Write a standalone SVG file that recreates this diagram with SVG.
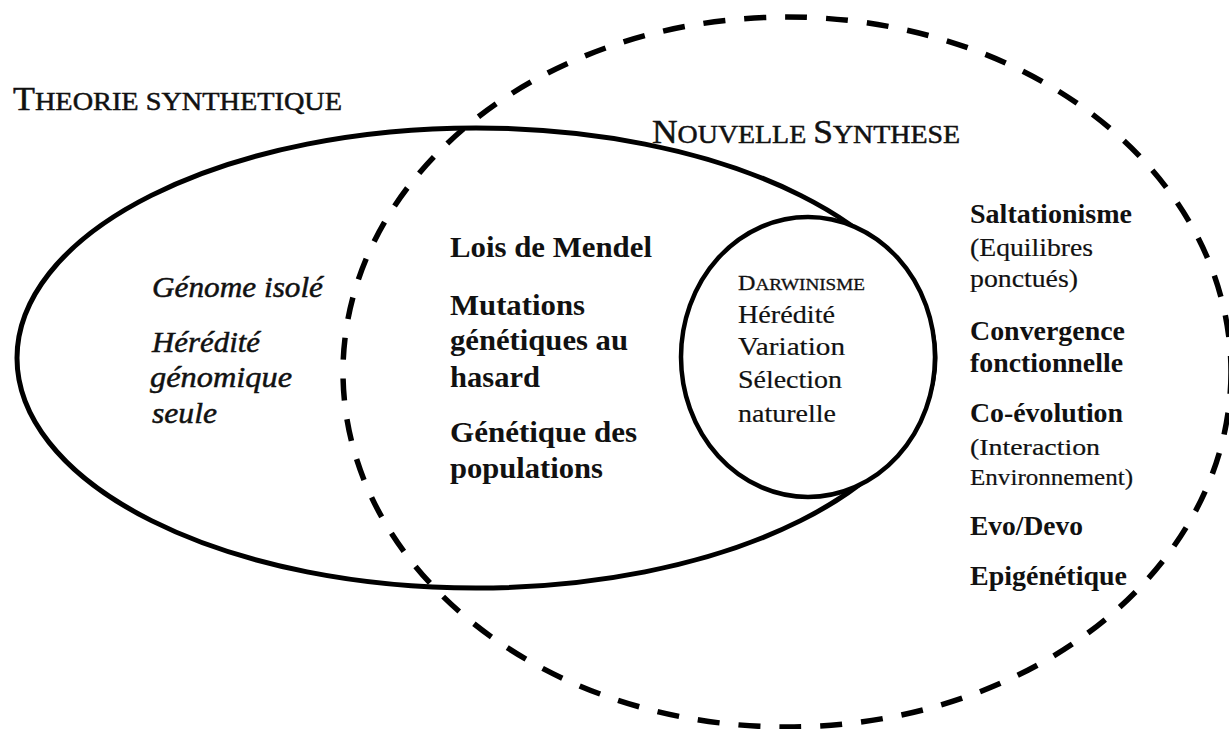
<svg xmlns="http://www.w3.org/2000/svg" width="1229" height="729" viewBox="0 0 1229 729">
<defs>
<style>
text{font-family:"Liberation Serif","Times New Roman",serif;fill:#111;}
.t{stroke:#111;stroke-width:0.5;}
.b{font-weight:bold;font-size:30px;}
.i{font-style:italic;font-size:30px;stroke:#111;stroke-width:0.5;}
.c{font-size:26px;stroke:#111;stroke-width:0.2;}
.rb{font-weight:bold;font-size:27px;}
.rr{font-size:26px;stroke:#111;stroke-width:0.2;}
.rs{font-size:24px;stroke:#111;stroke-width:0.2;}
.solid{fill:none;stroke:#000;stroke-width:5;}
.dash{fill:none;stroke:#000;stroke-width:5.5;stroke-dasharray:22 19;}
.circ{fill:#fff;stroke:#000;stroke-width:4.5;}
</style>
</defs>
<rect width="1229" height="729" fill="#fff"/>
<g id="theorie-synthetique">
<ellipse class="solid" cx="476" cy="358" rx="459" ry="230"/>
<text class="t" x="13" y="110" textLength="329" lengthAdjust="spacingAndGlyphs"><tspan font-size="33">T</tspan><tspan font-size="26">HEORIE SYNTHETIQUE</tspan></text>
<text class="i" x="152" y="297" textLength="171" lengthAdjust="spacingAndGlyphs">Génome isolé</text>
<text class="i" x="152" y="352" textLength="108" lengthAdjust="spacingAndGlyphs">Hérédité</text>
<text class="i" x="150" y="387" textLength="142" lengthAdjust="spacingAndGlyphs">génomique</text>
<text class="i" x="152" y="423" textLength="65" lengthAdjust="spacingAndGlyphs">seule</text>
</g>
<g id="nouvelle-synthese">
<ellipse class="dash" cx="787" cy="372" rx="444" ry="355"/>
<text class="t" x="652" y="143" textLength="308" lengthAdjust="spacingAndGlyphs"><tspan font-size="33">N</tspan><tspan font-size="26">OUVELLE </tspan><tspan font-size="33">S</tspan><tspan font-size="26">YNTHESE</tspan></text>
<text class="rb" x="970" y="223" textLength="162" lengthAdjust="spacingAndGlyphs">Saltationisme</text>
<text class="rr" x="970" y="256" textLength="123" lengthAdjust="spacingAndGlyphs">(Equilibres</text>
<text class="rr" x="970" y="287" textLength="108" lengthAdjust="spacingAndGlyphs">ponctués)</text>
<text class="rb" x="970" y="340" textLength="155" lengthAdjust="spacingAndGlyphs">Convergence</text>
<text class="rb" x="970" y="372" textLength="153" lengthAdjust="spacingAndGlyphs">fonctionnelle</text>
<text class="rb" x="970" y="422" textLength="153" lengthAdjust="spacingAndGlyphs">Co-évolution</text>
<text class="rs" x="970" y="455" textLength="130" lengthAdjust="spacingAndGlyphs">(Interaction</text>
<text class="rs" x="970" y="485" textLength="163" lengthAdjust="spacingAndGlyphs">Environnement)</text>
<text class="rb" x="970" y="535" textLength="113" lengthAdjust="spacingAndGlyphs">Evo/Devo</text>
<text class="rb" x="970" y="585" textLength="157" lengthAdjust="spacingAndGlyphs">Epigénétique</text>
</g>
<g id="intersection">
<text class="b" x="450" y="257" textLength="202" lengthAdjust="spacingAndGlyphs">Lois de Mendel</text>
<text class="b" x="450" y="315" textLength="135" lengthAdjust="spacingAndGlyphs">Mutations</text>
<text class="b" x="450" y="350" textLength="178" lengthAdjust="spacingAndGlyphs">génétiques au</text>
<text class="b" x="450" y="387" textLength="90" lengthAdjust="spacingAndGlyphs">hasard</text>
<text class="b" x="450" y="442" textLength="187" lengthAdjust="spacingAndGlyphs">Génétique des</text>
<text class="b" x="450" y="478" textLength="153" lengthAdjust="spacingAndGlyphs">populations</text>
</g>
<g id="darwinisme">
<ellipse class="circ" cx="808" cy="357" rx="127" ry="140"/>
<text class="t" x="738" y="290" textLength="127" lengthAdjust="spacingAndGlyphs" style="stroke-width:0.3"><tspan font-size="22">D</tspan><tspan font-size="17.5">ARWINISME</tspan></text>
<text class="c" x="738" y="323" textLength="97" lengthAdjust="spacingAndGlyphs">Hérédité</text>
<text class="c" x="738" y="355" textLength="107" lengthAdjust="spacingAndGlyphs">Variation</text>
<text class="c" x="738" y="388" textLength="104" lengthAdjust="spacingAndGlyphs">Sélection</text>
<text class="c" x="738" y="422" textLength="98" lengthAdjust="spacingAndGlyphs">naturelle</text>
</g>
<g id="connectors"/>
</svg>
